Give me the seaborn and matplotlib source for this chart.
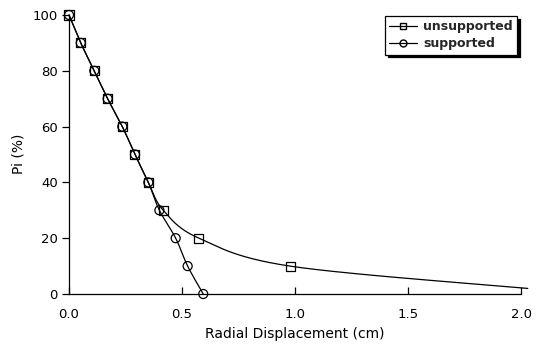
import numpy as np
import pandas as pd
import matplotlib
matplotlib.use("Agg")
import matplotlib.pyplot as plt
from matplotlib.lines import Line2D
import seaborn as sns

# ---- data ----
unsup_disp = [0.0, 0.052, 0.112, 0.171, 0.236, 0.292, 0.351, 0.417, 0.575, 0.978, 2.03]
unsup_pi = [100, 90, 80, 70, 60, 50, 40, 30, 20, 10, 2.0]
sup_disp = [0.0, 0.052, 0.112, 0.171, 0.236, 0.292, 0.351, 0.40, 0.472, 0.525, 0.594]
sup_pi = [100, 90, 80, 70, 60, 50, 40, 30, 20, 10, 0]
series_names = ["unsupported", "supported"]
x_ticks = [0.0, 0.5, 1.0, 1.5, 2.0]
y_ticks = [0, 20, 40, 60, 80, 100]


def smooth(xs, ys, xr=2.0, yr=100.0, n=30):
    """Catmull-Rom smoothing (like a spreadsheet 'smoothed line')."""
    p = np.column_stack([np.asarray(xs) / xr, np.asarray(ys) / yr])
    out = [p[0]]
    for i in range(len(p) - 1):
        p0 = p[i - 1] if i > 0 else p[i]
        p1, p2 = p[i], p[i + 1]
        p3 = p[i + 2] if i + 2 < len(p) else p[i + 1]
        c1 = p1 + (p2 - p0) / 6.0
        c2 = p2 - (p3 - p1) / 6.0
        t = np.linspace(0, 1, n)[1:, None]
        seg = ((1 - t) ** 3) * p1 + 3 * ((1 - t) ** 2) * t * c1 + 3 * (1 - t) * t ** 2 * c2 + t ** 3 * p2
        out.extend(seg)
    out = np.array(out)
    return out[:, 0] * xr, out[:, 1] * yr


sns.set_theme(style="ticks")
plt.rcParams["font.family"] = ["DejaVu Sans"]

fig = plt.figure(figsize=(5.44, 3.44), dpi=100)
ax = fig.add_axes([69 / 544, 1 - 294 / 344, (521 - 69) / 544, (294 - 15) / 344])

sx, sy = smooth(unsup_disp, unsup_pi)
cx, cy = smooth(sup_disp, sup_pi)
df_u = pd.DataFrame({"x": sx, "y": sy})
df_s = pd.DataFrame({"x": cx, "y": cy})

sns.lineplot(data=df_u, x="x", y="y", sort=False, estimator=None, color="black",
             lw=0.9, ax=ax, clip_on=False)
sns.lineplot(data=df_s, x="x", y="y", sort=False, estimator=None, color="black",
             lw=0.9, ax=ax, clip_on=False)

mu = pd.DataFrame({"x": unsup_disp[:-1], "y": unsup_pi[:-1]})
ms = pd.DataFrame({"x": sup_disp, "y": sup_pi})
sns.scatterplot(data=ms, x="x", y="y", marker="o", s=42, facecolor="none",
                edgecolor="black", linewidth=0.9, ax=ax, clip_on=False, zorder=3)
sns.scatterplot(data=mu, x="x", y="y", marker="s", s=42, facecolor="none",
                edgecolor="black", linewidth=0.9, ax=ax, clip_on=False, zorder=4)

ax.set_xlim(0, 2.0)
ax.set_ylim(0, 100)
ax.set_xticks(x_ticks)
ax.set_xticklabels([f"{v:.1f}" for v in x_ticks])
ax.set_yticks(y_ticks)
ax.set_yticklabels([str(v) for v in y_ticks])
ax.tick_params(axis="x", direction="in", length=5, width=0.9, labelsize=9.5, colors="black", pad=10)
ax.tick_params(axis="y", direction="out", length=5, width=0.9, labelsize=9.5, colors="black", pad=3)
for s in ("top", "right"):
    ax.spines[s].set_visible(False)
for s in ("left", "bottom"):
    ax.spines[s].set_color("black")
    ax.spines[s].set_linewidth(0.9)

ax.set_xlabel("Radial Displacement (cm)", fontsize=10, color="black")
ax.set_ylabel("Pi (%)", fontsize=10, color="black")
ax.xaxis.set_label_coords(0.5, (294 - 327) / 279)
ax.yaxis.set_label_coords((25 - 69) / 452, (294 - 153.5) / 279)

handles = [
    Line2D([], [], color="black", lw=0.9, marker="s", markersize=5,
           markerfacecolor="none", markeredgecolor="black"),
    Line2D([], [], color="black", lw=0.9, marker="o", markersize=5,
           markerfacecolor="none", markeredgecolor="black"),
]
leg = ax.legend(handles, series_names, loc="upper right", bbox_to_anchor=(517 / 544, 1 - 16 / 344),
                bbox_transform=fig.transFigure, fontsize=9, frameon=True, fancybox=False,
                shadow={"color": "black", "alpha": 1}, borderpad=0.35, handlelength=2.2,
                handletextpad=0.5, labelspacing=0.3, borderaxespad=0)
leg.get_frame().set_edgecolor("black")
leg.get_frame().set_linewidth(0.9)
for t in leg.get_texts():
    t.set_fontweight("bold")

fig.savefig("out.png", dpi=100, facecolor="white")
